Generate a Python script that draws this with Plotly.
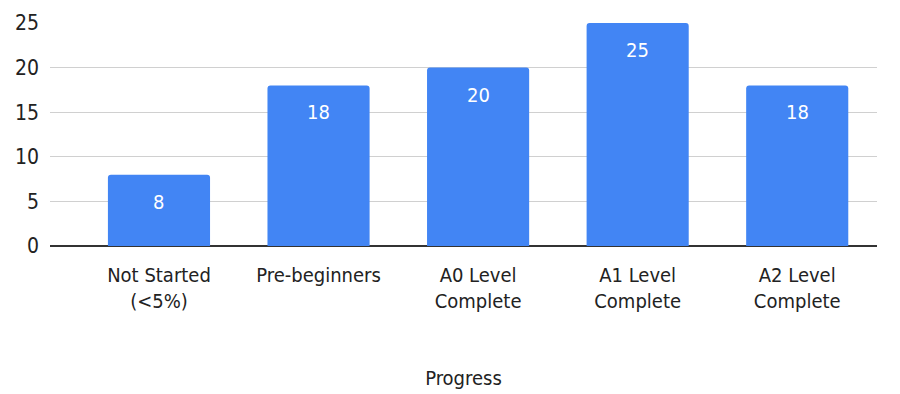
import plotly.graph_objects as go

categories = ["Not Started<br>(<5%)", "Pre-beginners", "A0 Level<br>Complete",
              "A1 Level<br>Complete", "A2 Level<br>Complete"]
counts = [8, 18, 20, 25, 18]
y_ticks = [0, 5, 10, 15, 20, 25]

BLUE = "#4285F4"
FONT = "DejaVu Sans Condensed, Liberation Sans, sans-serif"

fig = go.Figure(go.Bar(
    x=list(range(len(categories))),
    y=counts,
    width=0.64,
    marker_color=BLUE,
    marker_line_width=0,
    marker_cornerradius=3,
    hoverinfo="skip",
))

# value labels sit inside each bar, a little below its top
for i, v in enumerate(counts):
    fig.add_annotation(x=i, y=v, yshift=-27, text=str(v), showarrow=False,
                       font=dict(family=FONT, size=20, color="white"))

# page body has an 8px margin, so the plot box is shifted by 8px
fig.update_layout(
    width=900, height=394,
    paper_bgcolor="white", plot_bgcolor="white",
    margin=dict(l=42, r=31, t=15, b=156),
    showlegend=False,
    font=dict(family=FONT, size=20, color="#222222"),
    xaxis=dict(
        range=[-0.683, 4.5],
        tickvals=list(range(len(categories))),
        ticktext=categories,
        showgrid=False, zeroline=False, ticks="",
        ticklabelstandoff=15, automargin=False,
        title=dict(text="Progress", standoff=58, font=dict(size=20)),
    ),
    yaxis=dict(
        range=[0, 25],
        tickvals=y_ticks,
        showgrid=True, gridcolor="#d0d0d0", gridwidth=1,
        zeroline=True, zerolinecolor="#333333", zerolinewidth=1.5,
        ticks="", ticklabelstandoff=10, automargin=False,
        tickfont=dict(size=21),
    ),
)

fig.write_html("out.html")
